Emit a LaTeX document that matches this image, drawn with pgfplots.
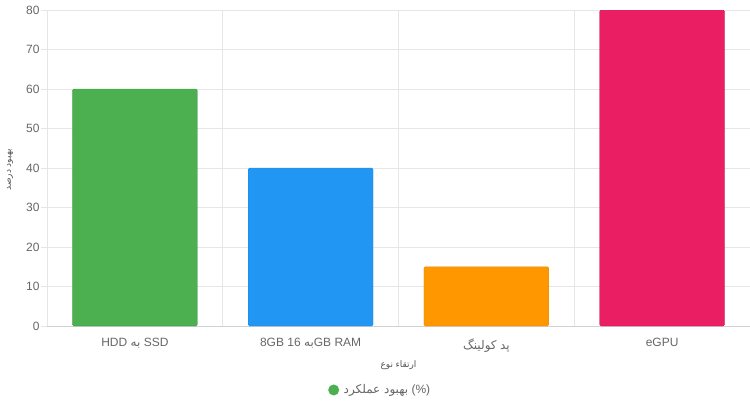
\documentclass[border=0pt]{standalone}
\usepackage{pgfplots}
\pgfplotsset{compat=1.18}
\usepackage{fontspec}
\setmainfont{Liberation Sans}
\newfontfamily\fa[Script=Arabic]{DejaVu Sans}
\TeXXeTstate=1

\definecolor{cgreen}{HTML}{4CAF50}
\definecolor{cblue}{HTML}{2196F3}
\definecolor{corange}{HTML}{FF9800}
\definecolor{cpink}{HTML}{E91E63}
\definecolor{gridc}{HTML}{E6E6E6}
\definecolor{axisc}{HTML}{D2D2D2}
\definecolor{ticktext}{HTML}{666666}
\definecolor{titletext}{HTML}{555555}

% Persian text, right to left
\newcommand{\R}[1]{{\fa\beginR #1\endR}}

\begin{document}
\begin{tikzpicture}
\useasboundingbox (-47pt,-81pt) rectangle (703pt,326pt);
\begin{axis}[
    at={(0pt,0pt)}, anchor=south west,
    scale only axis,
    width=703pt, height=316pt,
    xmin=-0.5, xmax=3.5,
    ymin=0, ymax=80,
    ybar, bar width=0.71,
    axis x line*=bottom, axis y line*=left,
    axis line style={axisc, line width=0.8pt},
    xtick={0,1,2,3},
    xticklabels={{HDD \R{به} SSD},{8GB 16 \R{به}GB RAM},{\R{کولینگ} \R{پد}},{eGPU}},
    major x tick style={draw=none},
    extra x ticks={-0.5,0.5,1.5,2.5,3.5},
    extra x tick labels={},
    extra x tick style={grid=major, tick style={gridc, line width=0.8pt}},
    ytick={0,10,...,80},
    ymajorgrids=true,
    grid style={gridc, line width=0.8pt},
    tick align=outside,
    major tick length=6pt,
    y tick style={gridc, line width=0.8pt},
    /pgf/number format/assume math mode=true,
    yticklabel style={font=\fontsize{12}{14}\selectfont, text=ticktext, xshift=2pt},
    xticklabel style={font=\fontsize{12}{14}\selectfont, text=ticktext, yshift=-3pt},
    xlabel={\R{نوع} \R{ارتقاء}},
    xlabel style={at={(axis description cs:0.5,-0.123)}, anchor=center,
      font=\fontsize{9}{11}\selectfont, text=titletext},
    ylabel={\R{درصد} \R{بهبود}},
    ylabel style={at={(axis description cs:-0.0526,0.494)}, anchor=center,
      font=\fontsize{9}{11}\selectfont, text=titletext},
    legend style={at={(axis description cs:0.474,-0.2025)}, anchor=center,
      draw=none, fill=none, font=\fontsize{12}{14}\selectfont, text=ticktext},
    legend image code/.code={%
      \fill[cgreen, draw=none] (0pt,0pt) circle (5.5pt);
      \path[draw=none, fill=none] (-5.5pt,0pt) -- (8pt,0pt);},
]
\addplot[fill=cgreen, draw=cgreen!90!black, bar shift=0pt, rounded corners=1.5pt]
    coordinates {(0,60)};
\addlegendentry{\R{بهبود عملکرد} (\%)}
\addplot[fill=cblue, draw=cblue!90!black, bar shift=0pt, rounded corners=1.5pt, forget plot]
    coordinates {(1,40)};
\addplot[fill=corange, draw=corange!90!black, bar shift=0pt, rounded corners=1.5pt, forget plot]
    coordinates {(2,15)};
\addplot[fill=cpink, draw=cpink!90!black, bar shift=0pt, rounded corners=1.5pt, forget plot]
    coordinates {(3,80)};
\end{axis}
\end{tikzpicture}
\end{document}
